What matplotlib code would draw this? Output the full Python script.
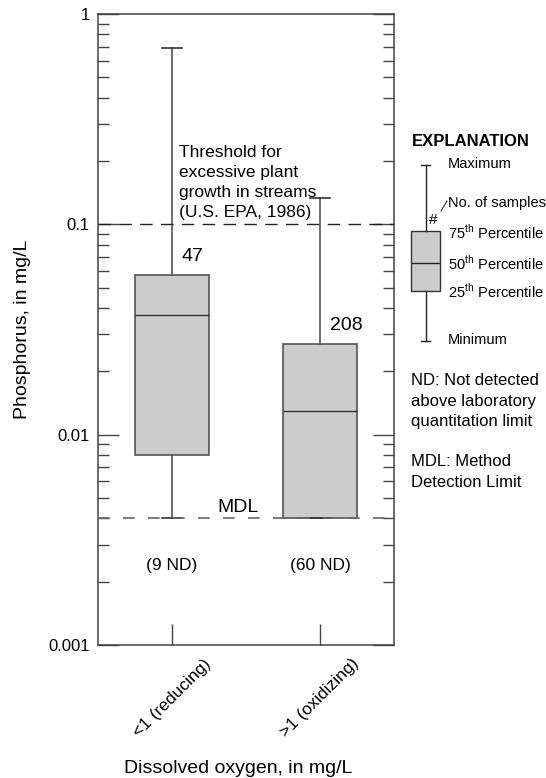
import matplotlib
matplotlib.use("Agg")
import matplotlib.pyplot as plt
from matplotlib.lines import Line2D
from matplotlib.ticker import FixedLocator, LogLocator, NullFormatter

plt.rcParams['font.family'] = ['Liberation Sans', 'DejaVu Sans']
plt.rcParams['mathtext.fontset'] = 'custom'
plt.rcParams['mathtext.rm'] = 'Liberation Sans'

# data (mg/L)
groups = ['<1 (reducing)', '>1 (oxidizing)']
p_min = [0.004, 0.004]
p_q1 = [0.008, 0.004]
p_med = [0.037, 0.013]
p_q3 = [0.0575, 0.027]
p_max = [0.69, 0.134]
n_samples = [47, 208]
n_nd = [9, 60]
epa_threshold = 0.1
mdl = 0.004
yticks = [0.001, 0.01, 0.1, 1]
ytick_labels = ['0.001', '0.01', '0.1', '1']

W, H = 546, 778
fig = plt.figure(figsize=(W / 100, H / 100), dpi=100)


def fx(x):
    return x / W


def fy(y):
    return 1 - y / H


edge = '#555555'
ax = fig.add_axes([fx(98), fy(645), fx(394) - fx(98), fy(14) - fy(645)])
positions = [1, 2]
stats = []
for i in range(len(groups)):
    stats.append(dict(whislo=p_min[i], q1=p_q1[i], med=p_med[i],
                      q3=p_q3[i], whishi=p_max[i], label=groups[i]))
ax.bxp(stats, positions=positions, widths=0.5, patch_artist=True,
       showfliers=False, capwidths=0.135,
       boxprops=dict(facecolor='#cccccc', edgecolor=edge, linewidth=1.2),
       medianprops=dict(color='#333333', linewidth=1.0),
       whiskerprops=dict(color=edge, linewidth=1.2),
       capprops=dict(color='#333333', linewidth=1.2))

ax.set_yscale('log')
ax.set_ylim(0.001, 1)
ax.set_xlim(0.5, 2.5)

# reference lines
ax.axhline(epa_threshold, color='#222222', lw=1.0, dashes=(9, 6), zorder=3)
ax.axhline(mdl, color='#666666', lw=1.2, dashes=(7, 8), zorder=3)

ax.annotate('Threshold for\nexcessive plant\ngrowth in streams\n(U.S. EPA, 1986)',
            xy=(1.047, epa_threshold), xytext=(0, 3), textcoords='offset points',
            fontsize=12.5, ha='left', va='bottom', linespacing=1.42)
ax.annotate('MDL', xy=(1.304, mdl), xytext=(0, 2), textcoords='offset points',
            fontsize=14, ha='left', va='bottom')

for i, pos in enumerate(positions):
    ax.annotate(str(n_samples[i]), xy=(pos, p_q3[i]), xytext=(7, 13),
                textcoords='offset points', fontsize=14, ha='left', va='center')
    ax.text(pos, 0.0024, f'({n_nd[i]} ND)', fontsize=12.5, ha='center', va='center')

ax.yaxis.set_major_locator(FixedLocator(yticks))
ax.set_yticklabels(ytick_labels)
ax.yaxis.set_minor_locator(LogLocator(base=10, subs=range(2, 10)))
ax.yaxis.set_minor_formatter(NullFormatter())
ax.set_xticks(positions)
ax.set_xticklabels(groups, rotation=45, ha='center', fontsize=12.5)

ax.tick_params(axis='y', which='major', direction='in', length=15, width=1.0,
               left=True, right=True, labelsize=12, color='#444444', pad=6)
ax.tick_params(axis='y', which='minor', direction='in', length=8, width=1.0,
               left=True, right=True, color='#444444')
ax.tick_params(axis='x', direction='in', length=15, width=1.0, top=False,
               color='#444444', pad=8)
for s in ax.spines.values():
    s.set_color('#444444')
    s.set_linewidth(1.1)

ax.set_ylabel('Phosphorus, in mg/L', fontsize=14)
ax.yaxis.set_label_coords(-0.225, 0.5)
ax.set_xlabel('Dissolved oxygen, in mg/L', fontsize=14)
ax.xaxis.set_label_coords(0.473, -0.182)

# explanation box
lax = fig.add_axes([fx(411), fy(341), fx(440) - fx(411), fy(165) - fy(341)])
leg = lax.bxp([dict(whislo=0, q1=0.284, med=0.443, q3=0.625, whishi=1)],
              positions=[0], widths=1, patch_artist=True, showfliers=False,
              capwidths=0.31,
              boxprops=dict(facecolor='#cccccc', edgecolor='#333333', linewidth=1.0),
              medianprops=dict(color='#222222', linewidth=1.0),
              whiskerprops=dict(color='#222222', linewidth=1.0),
              capprops=dict(color='#222222', linewidth=1.0))
for arts in leg.values():
    for a in arts:
        a.set_clip_on(False)
lax.set_xlim(-0.5, 0.5)
lax.set_ylim(0, 1)
lax.axis('off')

fig.text(fx(412), fy(141), 'EXPLANATION', fontsize=12, fontweight='bold',
         ha='left', va='center')
legend_labels = [(164, 'Maximum'), (203, 'No. of samples'),
                 (232, '75$^{\\rm th}$ Percentile'),
                 (263, '50$^{\\rm th}$ Percentile'),
                 (291, '25$^{\\rm th}$ Percentile'), (340, 'Minimum')]
for y, t in legend_labels:
    fig.text(fx(448), fy(y), t, fontsize=10.5, ha='left', va='center')
fig.text(fx(433), fy(220), '#', fontsize=11, ha='center', va='center')
fig.add_artist(Line2D([fx(441), fx(447)], [fy(211), fy(201)],
                      transform=fig.transFigure, color='#333333', lw=0.8))

fig.text(fx(411), fy(401), 'ND: Not detected\nabove laboratory\nquantitation limit',
         fontsize=12, ha='left', va='center', linespacing=1.42)
fig.text(fx(411), fy(472), 'MDL: Method\nDetection Limit',
         fontsize=12, ha='left', va='center', linespacing=1.42)

fig.savefig('out.png', dpi=100)
